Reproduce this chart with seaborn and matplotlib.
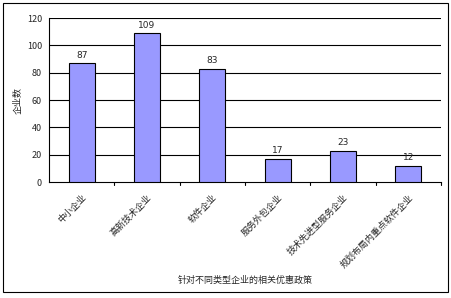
import matplotlib
matplotlib.use("Agg")
import matplotlib.pyplot as plt
import seaborn as sns
import pandas as pd
from matplotlib.patches import Rectangle

categories = ["中小企业", "高新技术企业", "软件企业", "服务外包企业", "技术先进型服务企业", "规划布局内重点软件企业"]
counts = [87, 109, 83, 17, 23, 12]
y_ticks = [0, 20, 40, 60, 80, 100, 120]

sns.set_theme(style="white")
plt.rcParams["font.family"] = ["Noto Sans CJK SC", "DejaVu Sans"]

df = pd.DataFrame({"policy": categories, "count": counts})

fig = plt.figure(figsize=(4.51, 2.98), dpi=100)
fig.patches.append(Rectangle((3 / 451, 6 / 298), 445 / 451, 289 / 298, transform=fig.transFigure,
                             fill=False, edgecolor="black", linewidth=0.8))
ax = fig.add_axes([49 / 451, 1 - 182 / 298, 392 / 451, 164 / 298])

sns.barplot(data=df, x="policy", y="count", color="#9999FF", saturation=1, width=0.4,
            edgecolor="black", linewidth=0.8, ax=ax, zorder=3)

ax.set_ylim(0, 120)
ax.set_xlim(-0.5, len(categories) - 0.5)
ax.set_yticks(y_ticks)
ax.set_yticklabels([str(v) for v in y_ticks], fontsize=6.5)
for v in y_ticks[1:]:
    ax.axhline(v, color="black", linewidth=0.8, zorder=1)

for i, v in enumerate(counts):
    ax.text(i, v + 2.5, str(v), ha="center", va="bottom", fontsize=6.5, family="DejaVu Sans")

ax.set_xticks(range(len(categories)))
ax.set_xticklabels(categories, rotation=45, ha="right", rotation_mode="anchor", fontsize=6.5)
ax.tick_params(axis="x", length=0, pad=8)
ax.tick_params(axis="y", length=3, width=0.8, color="black", direction="out", pad=2)
for b in [i + 0.5 for i in range(len(categories))]:
    ax.plot([b, b], [0, -2.5], color="black", linewidth=0.8, clip_on=False)

for s in ["top", "right"]:
    ax.spines[s].set_visible(False)
for s in ["left", "bottom"]:
    ax.spines[s].set_color("black")
    ax.spines[s].set_linewidth(0.8)

ax.set_xlabel("")
ax.set_ylabel("")
fig.text(18 / 451, 1 - 100 / 298, "企业数", rotation=90, ha="center", va="center", fontsize=6.5)
fig.text(245 / 451, 1 - 280 / 298, "针对不同类型企业的相关优惠政策", ha="center", va="center", fontsize=6.5)

fig.savefig("out.png", dpi=100, facecolor="white")
